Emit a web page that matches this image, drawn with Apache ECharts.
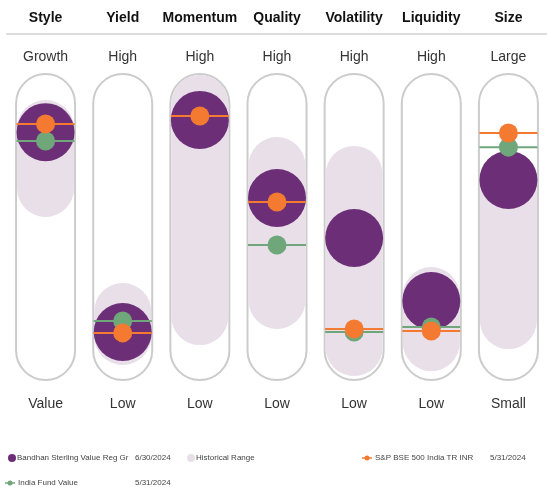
<!DOCTYPE html>
<html>
<head>
<meta charset="utf-8">
<script src="https://cdn.jsdelivr.net/npm/echarts@6/dist/echarts.min.js"></script>
<style>
  html, body { margin: 0; padding: 0; background: #fff; }
  #chart { width: 547px; height: 487px; }
</style>
</head>
<body>
<div id="chart"></div>
<script>
// factor names and the end labels of each scale
const factors = ['Style', 'Yield', 'Momentum', 'Quality', 'Volatility', 'Liquidity', 'Size'];
const highLabels = ['Growth', 'High', 'High', 'High', 'High', 'High', 'Large'];
const lowLabels = ['Value', 'Low', 'Low', 'Low', 'Low', 'Low', 'Small'];

// 0 = bottom of the capsule, 100 = top
const rangeLow = [53.3, 4.9, 11.4, 16.7, 1.3, 2.9, 10.1];
const rangeHigh = [91.5, 31.7, 99.7, 79.4, 76.5, 36.9, 70.3];
const fundValues = [81.0, 15.7, 85.0, 59.5, 46.4, 25.8, 65.4];
const benchmarkValues = [83.7, 15.4, 86.3, 58.2, 16.7, 16.0, 80.7];
const categoryValues = [78.1, 19.3, null, 44.1, 15.7, 17.3, 76.1];

const legendNames = ['Bandhan Sterling Value Reg Gr', 'Historical Range', 'S&P BSE 500 India TR INR', 'India Fund Value'];
const legendDates = ['6/30/2024', '', '5/31/2024', '5/31/2024'];

const PURPLE = '#6c2f77';
const PALE = '#e8dfe9';
const ORANGE = '#f47a32';
const GREEN = '#6fa77b';
const FONT = '"Liberation Sans Narrow", "Liberation Sans", Arial, sans-serif';

const chart = echarts.init(document.getElementById('chart'));

// rounded rectangle between two values, used for capsules and ranges
function pill(params, api, lo, hi, w, style) {
  const top = api.coord([api.value(0), hi]);
  const bot = api.coord([api.value(0), lo]);
  return {
    type: 'rect',
    shape: { x: top[0] - w / 2, y: top[1], width: w, height: bot[1] - top[1], r: w / 2 },
    style: style
  };
}

// dot with a horizontal line across the capsule
function marker(color) {
  return function (params, api) {
    const v = api.value(1);
    if (v == null || isNaN(v)) return null;
    const p = api.coord([api.value(0), v]);
    return {
      type: 'group',
      children: [
        { type: 'line', shape: { x1: p[0] - 29, y1: p[1], x2: p[0] + 29, y2: p[1] }, style: { stroke: color, lineWidth: 2 } },
        { type: 'circle', shape: { cx: p[0], cy: p[1], r: 9.5 }, style: { fill: color } }
      ]
    };
  };
}

const legendY = [458, 458, 458, 483];
const legendX = [8, 187, 362, 5];
const dateX = [135, 0, 490, 135];
const legendGraphics = [];
legendNames.forEach((name, i) => {
  const x = legendX[i], y = legendY[i];
  if (i === 0 || i === 1) {
    legendGraphics.push({ type: 'circle', shape: { cx: x + 4, cy: y, r: 4 }, style: { fill: i === 0 ? PURPLE : PALE } });
  } else {
    const c = i === 2 ? ORANGE : GREEN;
    legendGraphics.push({ type: 'line', shape: { x1: x, y1: y, x2: x + 10, y2: y }, style: { stroke: c, lineWidth: 1.5 } });
    legendGraphics.push({ type: 'circle', shape: { cx: x + 5, cy: y, r: 2.5 }, style: { fill: c } });
  }
  legendGraphics.push({ type: 'text', x: x + (i < 2 ? 9 : 13), y: y, style: { text: name, fill: '#444', font: '8px ' + FONT, verticalAlign: 'middle' } });
  if (legendDates[i]) {
    legendGraphics.push({ type: 'text', x: dateX[i], y: y, style: { text: legendDates[i], fill: '#444', font: '8px ' + FONT, verticalAlign: 'middle' } });
  }
});

const option = {
  backgroundColor: '#fff',
  animation: false,
  grid: { left: 7, right: 0, top: 74, bottom: 107 },
  xAxis: [
    {
      type: 'category', data: lowLabels, position: 'bottom',
      axisLine: { show: false }, axisTick: { show: false },
      axisLabel: { interval: 0, margin: 17, color: '#333', fontSize: 14, fontFamily: FONT }
    },
    {
      type: 'category', data: highLabels, position: 'top',
      axisLine: { show: false }, axisTick: { show: false },
      axisLabel: { interval: 0, margin: 10, color: '#333', fontSize: 14, fontFamily: FONT }
    },
    {
      type: 'category', data: factors, position: 'top', offset: 40,
      axisLine: { show: true, lineStyle: { color: '#dcdcdc', width: 2 } },
      axisTick: { show: false },
      axisLabel: { interval: 0, margin: 9, color: '#111', fontSize: 14, fontWeight: 'bold', fontFamily: FONT }
    }
  ],
  yAxis: { type: 'value', min: 0, max: 100, show: false },
  graphic: legendGraphics,
  series: [
    {
      type: 'custom', name: 'capsule', silent: true, z: 1,
      data: factors.map((f, i) => [i, 0, 100]),
      renderItem: (params, api) => pill(params, api, api.value(1), api.value(2), 59, { fill: 'none', stroke: '#cccccc', lineWidth: 2 })
    },
    {
      type: 'custom', name: 'Historical Range', z: 2,
      data: factors.map((f, i) => [i, rangeLow[i], rangeHigh[i]]),
      renderItem: (params, api) => pill(params, api, api.value(1), api.value(2), 57, { fill: PALE })
    },
    {
      type: 'scatter', name: legendNames[0], z: 3,
      data: fundValues.map((v, i) => [i, v]),
      symbolSize: 58, itemStyle: { color: PURPLE, opacity: 1 }
    },
    {
      type: 'custom', name: legendNames[3], z: 4,
      data: categoryValues.map((v, i) => [i, v]),
      renderItem: marker(GREEN)
    },
    {
      type: 'custom', name: legendNames[2], z: 5,
      data: benchmarkValues.map((v, i) => [i, v]),
      renderItem: marker(ORANGE)
    }
  ]
};

chart.setOption(option);
</script>
</body>
</html>
